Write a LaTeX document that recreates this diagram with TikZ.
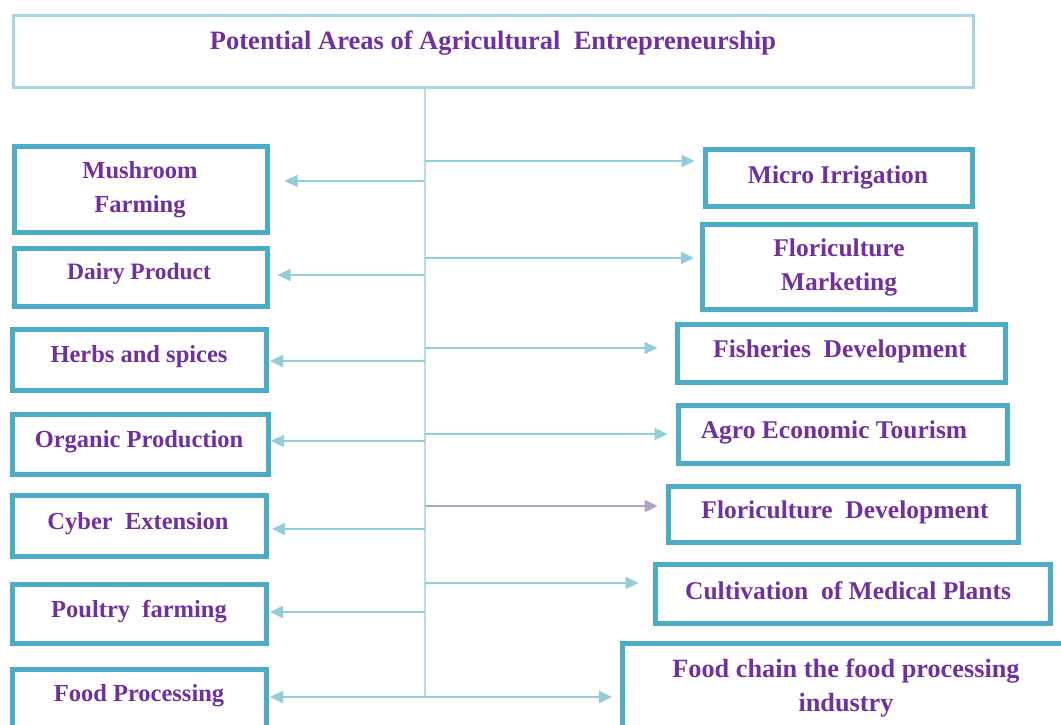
\documentclass[tikz,border=0pt]{standalone}
\usepackage{fontspec}
\setmainfont{Liberation Serif}
\usetikzlibrary{arrows.meta}
\definecolor{boxc}{HTML}{4BACC6}
\definecolor{titlec}{HTML}{A5D5E2}
\definecolor{arrc}{HTML}{92CDDC}
\definecolor{trunkc}{HTML}{B7DEE8}
\definecolor{purparr}{HTML}{B3A2C7}
\definecolor{txtc}{HTML}{7030A0}
\tikzset{
  ibox/.style={draw=boxc, line width=5pt, rectangle, inner sep=0pt},
  tbox/.style={draw=titlec, line width=3.5pt, rectangle, inner sep=0pt},
  ltxt/.style={text=txtc, font=\bfseries\fontsize{24.5}{34}\selectfont, align=center, inner sep=0pt, yshift=-3pt},
  rtxt/.style={text=txtc, font=\bfseries\fontsize{25.5}{34}\selectfont, align=center, inner sep=0pt, yshift=-3pt},
  arr/.style={draw=arrc, line width=2.2pt, -{Triangle[length=13pt,width=12pt]}},
  parr/.style={draw=purparr, line width=2.4pt, -{Triangle[length=13pt,width=12pt]}},
  trunk/.style={draw=trunkc, line width=2pt}
}
\begin{document}
\begin{tikzpicture}[x=1pt,y=-1pt]
\useasboundingbox (0,0) rectangle (1061,725);
\fill[white] (0,0) rectangle (1061,725);
% title
\node[tbox, minimum width=960pt, minimum height=72pt] (title) at (493.5,51.5) {};
\node[rtxt, font=\bfseries\fontsize{26.5}{34}\selectfont] (titleT) at (493,40) {Potential Areas of Agricultural~ Entrepreneurship};
% left boxes
\node[ibox, minimum width=253pt, minimum height=86pt] (mush) at (141,189.5) {};
\node[ltxt] (mushT) at (140,187) {Mushroom\\Farming};
\node[ibox, minimum width=253pt, minimum height=58pt] (dairy) at (141,277.5) {};
\node[ltxt, font=\bfseries\fontsize{23.5}{34}\selectfont] (dairyT) at (139,271) {Dairy Product};
\node[ibox, minimum width=254pt, minimum height=61pt] (herbs) at (139.5,360) {};
\node[ltxt] (herbsT) at (139,354) {Herbs and spices};
\node[ibox, minimum width=256pt, minimum height=60pt] (organic) at (140.5,444.5) {};
\node[ltxt] (organicT) at (139,439) {Organic Production};
\node[ibox, minimum width=254pt, minimum height=61pt] (cyber) at (139.5,526) {};
\node[ltxt] (cyberT) at (138,521) {Cyber~ Extension};
\node[ibox, minimum width=254pt, minimum height=59pt] (poultry) at (139.5,614) {};
\node[ltxt] (poultryT) at (139,609) {Poultry~ farming};
\node[ibox, minimum width=254pt, minimum height=87pt] (foodp) at (139.5,713) {};
\node[ltxt] (foodpT) at (139,693) {Food Processing};
% right boxes
\node[ibox, minimum width=267pt, minimum height=57pt] (micro) at (839,178) {};
\node[rtxt] (microT) at (838,174) {Micro Irrigation};
\node[ibox, minimum width=273pt, minimum height=85pt] (florm) at (839,267) {};
\node[rtxt] (flormT) at (839,264) {Floriculture\\Marketing};
\node[ibox, minimum width=328pt, minimum height=58pt] (fish) at (841.5,353.5) {};
\node[rtxt] (fishT) at (840,348) {Fisheries~ Development};
\node[ibox, minimum width=329pt, minimum height=58pt] (agro) at (843,434.5) {};
\node[rtxt] (agroT) at (834,429) {Agro Economic Tourism};
\node[ibox, minimum width=350pt, minimum height=56pt] (flord) at (843.5,514.5) {};
\node[rtxt] (flordT) at (845,509) {Floriculture~ Development};
\node[ibox, minimum width=395pt, minimum height=59pt] (cult) at (853,594) {};
\node[rtxt] (cultT) at (848,588) {Cultivation~ of Medical Plants};
\node[ibox, minimum width=450pt, minimum height=114pt] (chain) at (847.5,700) {};
\node[rtxt, font=\bfseries\fontsize{26.3}{34}\selectfont] (chainT) at (846,685) {Food chain the food processing\\industry};
% trunk
\coordinate (top) at (425,89);
\coordinate (bot) at (425,697);
\draw[trunk] (top) -- (bot);
% trunk branch points
\coordinate (l1) at (425,181);
\coordinate (l2) at (425,275);
\coordinate (l3) at (425,361);
\coordinate (l4) at (425,441);
\coordinate (l5) at (425,529);
\coordinate (l6) at (425,612);
\coordinate (r1) at (425,161);
\coordinate (r2) at (425,258);
\coordinate (r3) at (425,348);
\coordinate (r4) at (425,434);
\coordinate (r5) at (425,506);
\coordinate (r6) at (425,583);
% left arrows
\draw[arr, shorten >=14.5pt] (l1) -- (l1 -| mush.east);
\draw[arr, shorten >=7.5pt] (l2) -- (l2 -| dairy.east);
\draw[arr, shorten >=1pt] (l3) -- (l3 -| herbs.east);
\draw[arr, shorten >=0pt] (l4) -- (l4 -| organic.east);
\draw[arr, shorten >=3pt] (l5) -- (l5 -| cyber.east);
\draw[arr, shorten >=1pt] (l6) -- (l6 -| poultry.east);
\draw[arr, {Triangle[length=13pt,width=12pt]}-{Triangle[length=13pt,width=12pt]}, shorten <=1pt, shorten >=8pt] (bot -| foodp.east) -- (bot -| chain.west);
% right arrows
\draw[arr, shorten >=8.5pt] (r1) -- (r1 -| micro.west);
\draw[arr, shorten >=6pt] (r2) -- (r2 -| florm.west);
\draw[arr, shorten >=17.5pt] (r3) -- (r3 -| fish.west);
\draw[arr, shorten >=8.5pt] (r4) -- (r4 -| agro.west);
\draw[parr, shorten >=8.5pt] (r5) -- (r5 -| flord.west);
\draw[arr, shorten >=14.5pt] (r6) -- (r6 -| cult.west);
\end{tikzpicture}
\end{document}
